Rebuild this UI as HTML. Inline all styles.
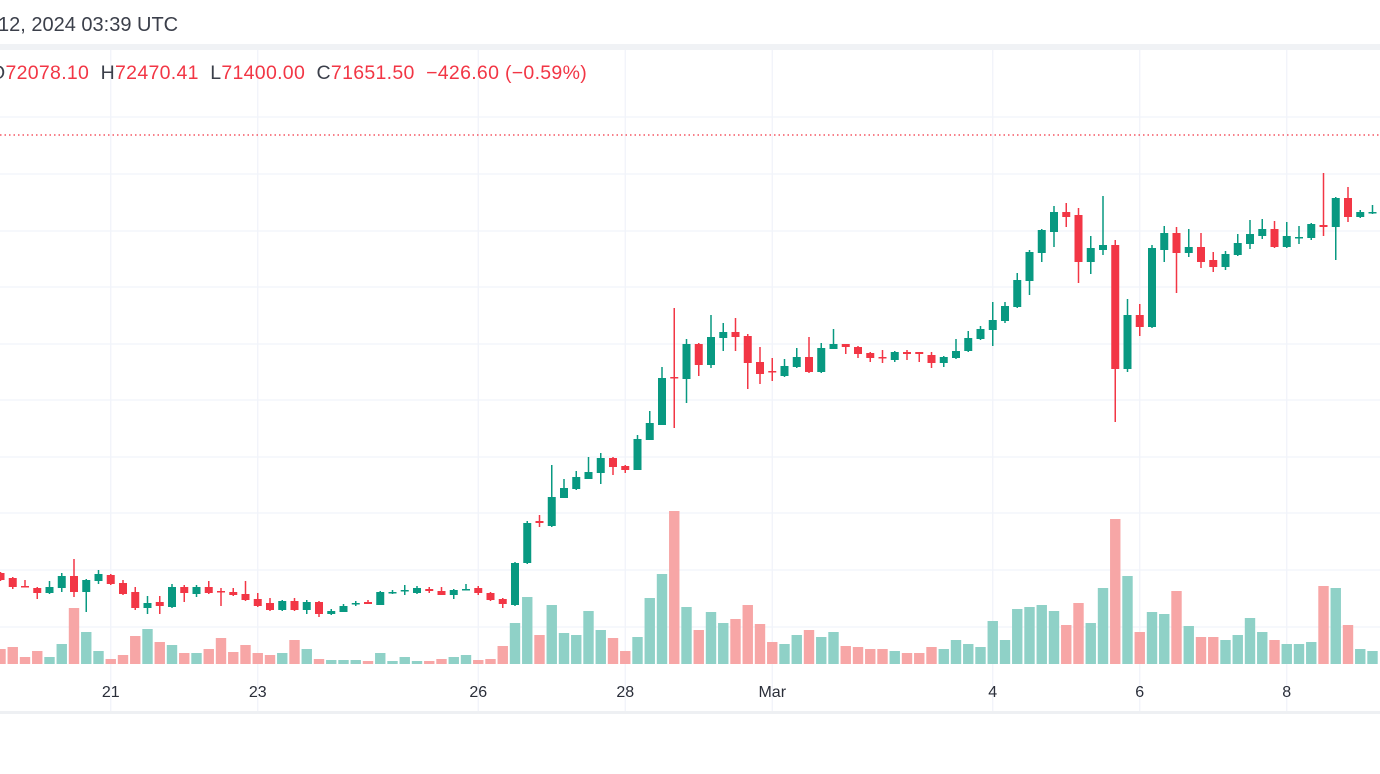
<!DOCTYPE html>
<html><head><meta charset="utf-8">
<style>
html,body{margin:0;padding:0;background:#fff;width:1380px;height:774px;overflow:hidden;font-family:"Liberation Sans",sans-serif;}
#hdr{position:absolute;left:-2px;top:14px;font-size:20px;color:#3b3f4a;white-space:nowrap;}
#ohlc{position:absolute;left:-10px;top:62px;font-size:19.5px;letter-spacing:0.3px;color:#3b3f4a;white-space:nowrap;}
#ohlc .v{color:#f23645;}
svg{position:absolute;left:0;top:0;}
</style></head><body>
<svg id="chart" width="1380" height="774"></svg>
<div id="hdr">12, 2024 03:39 UTC</div>
<div id="ohlc">O<span class="v">72078.10</span>&nbsp; H<span class="v">72470.41</span>&nbsp; L<span class="v">71400.00</span>&nbsp; C<span class="v">71651.50</span>&nbsp; <span class="v">−426.60 (−0.59%)</span></div>
<script>
const opens=[51350,51100,50700,50600,50350,50600,51200,50400,50950,51250,50850,50400,49600,49900,49650,50650,50300,50650,50450,50400,50300,50050,49850,49500,49950,49500,49900,49300,49400,49800,49900,49750,50350,50450,50350,50550,50450,50250,50500,50600,50350,50050,49750,51850,53950,53700,55100,55550,56050,56350,57100,56700,56500,58000,58750,61150,61050,62800,61750,63100,63400,63200,61900,61450,61200,61650,62150,61400,62550,62800,62650,62350,62150,62000,62400,62400,62250,61850,62100,62450,63050,63500,63950,64650,65950,67350,68400,69400,69250,66900,67500,67750,61550,64250,63650,67500,68350,67350,67650,67000,66650,67250,67800,68200,68550,67650,68100,68100,68750,68650,70100,69150,69350];
const highs=[51400,51150,51000,50650,50950,51350,52050,51050,51500,51300,51000,50650,50200,50200,50800,50750,50750,50950,50600,50600,50950,50350,50100,50000,50100,50000,49950,49550,49800,49950,50000,50450,50500,50750,50700,50650,50650,50550,50800,50700,50400,50100,51900,53950,54250,56750,56050,56450,57150,57350,57150,56750,58250,59450,61650,64600,63050,62850,64250,63850,64100,63300,62650,62100,62050,62600,63150,62850,63550,62800,62700,62400,62500,62450,62500,62400,62400,62200,63050,63450,63700,64900,64900,66350,67500,68550,69700,69850,69600,68200,70200,68000,65050,64800,67750,68700,68650,68550,68350,67400,67450,68300,69000,69050,68950,68900,68700,68850,71350,70150,70650,69500,69750];
const lows=[50950,50550,50650,50050,50300,50400,50150,49400,50800,50750,50250,49500,49300,49300,49600,49900,50150,50300,49700,50200,49950,49650,49450,49450,49450,49300,49150,49250,49400,49700,49800,49750,50300,50250,50300,50350,50250,50050,50500,50250,49950,49600,49700,51800,53650,53650,55100,55500,56050,55800,56250,56350,56500,58000,58750,58600,59850,61200,61600,62450,62450,60550,60800,60950,61150,61600,61350,61350,62550,62300,62100,61900,61850,61900,62000,61900,61600,61650,62050,62400,63000,62700,63850,64600,65250,66900,67650,68650,65850,66300,67250,58900,61400,63200,63600,66900,65350,67150,66600,66400,66500,67200,67550,68050,67600,67600,67800,68000,68200,67000,68900,69100,69300];
const closes=[51000,50650,50650,50350,50650,51200,50400,51000,51300,50800,50300,49600,49850,49700,50650,50350,50650,50350,50400,50250,50000,49700,49500,49950,49500,49900,49300,49450,49700,49850,49800,50400,50400,50500,50600,50450,50250,50500,50550,50350,50000,49800,51850,53850,53850,55150,55600,56150,56400,57100,56650,56500,58050,58850,61100,61100,62800,61750,63150,63400,63150,61850,61300,61400,61700,62150,61400,62600,62800,62650,62300,62100,62100,62400,62300,62300,61850,62150,62450,63100,63550,64000,64700,66000,67400,68500,69400,69150,66900,67600,67750,61550,64250,63650,67600,68350,67350,67650,66900,66650,67300,67850,68300,68550,67650,68200,68150,68800,68650,70100,69150,69400,69400];
const volumes=[1500,1700,700,1300,700,2000,5600,3200,1300,500,900,2800,3500,2200,1900,1100,1100,1500,2600,1200,1900,1100,900,1100,2400,1500,500,400,400,400,300,1100,300,700,300,300,500,700,900,400,500,1800,4100,6700,2900,5900,3100,2900,5300,3400,2600,1300,2700,6600,9000,15300,5700,3400,5200,4100,4500,5900,4000,2200,2000,2900,3400,2700,3200,1800,1700,1500,1500,1300,1100,1100,1700,1500,2400,2000,1700,4300,2400,5500,5700,5900,5300,3900,6100,4100,7600,14500,8800,3200,5200,5000,7300,3800,2700,2700,2400,2900,4600,3200,2400,2000,2000,2200,7800,7600,3900,1500,1300];
const dayLabels=["21","23","26","28","Mar","4","6","8"];
const dayLabelIndex=[9,21,39,51,63,81,93,105];

const NS="http://www.w3.org/2000/svg";
const svg=document.getElementById('chart');
const X=i=>0.5+12.25*i;
const Y=p=>(80000-p)/50;
const VY=v=>664-v/100;
function mk(t,a,parent){const e=document.createElementNS(NS,t);for(const k in a)e.setAttribute(k,a[k]);(parent||svg).appendChild(e);return e;}

let band=mk('rect',{x:0,y:44,width:1380,height:6,fill:'#f0f2f5'});


const gridG=mk('g',{});


[117,174,231,287,344,400,457,513,570,627].forEach(y=>{mk('line',{x1:0,x2:1380,y1:y,y2:y,stroke:'#f0f3fa','stroke-width':1.2},gridG);});
dayLabelIndex.forEach(i=>{mk('line',{x1:X(i),x2:X(i),y1:50,y2:712,stroke:'#f0f3fa','stroke-width':1.2},gridG);});
let lp=mk('line',{x1:0,x2:1380,y1:135,y2:135,stroke:'#f23645','stroke-width':1.2,'stroke-dasharray':'1.5 3'});



const volG=mk('g',{});


volumes.forEach((v,i)=>{
  const up=closes[i]>=opens[i];
  const r=mk('rect',{x:X(i)-5.2,y:VY(v),width:10.4,height:664-VY(v),fill:up?'#8fd1c7':'#f7a6a6'},volG);
  
  
});
const cG=mk('g',{});


opens.forEach((o,i)=>{
  const c=closes[i],up=c>=o,col=up?'#089981':'#f23645';
  const g=mk('g',{},cG);
  
  
  mk('line',{x1:X(i),x2:X(i),y1:Y(highs[i]),y2:Y(lows[i]),stroke:col,'stroke-width':1.5},g);
  const top=Math.min(Y(o),Y(c)),h=Math.max(1.5,Math.abs(Y(o)-Y(c)));
  mk('rect',{x:X(i)-4,y:top,width:8,height:h,fill:col},g);
});
let ax=mk('rect',{x:0,y:711,width:1380,height:3,fill:'#eef0f3'});


dayLabels.forEach((t,k)=>{
  const e=mk('text',{x:X(dayLabelIndex[k]),y:697,'text-anchor':'middle','font-size':'16','font-family':'Liberation Sans, sans-serif',fill:'#2a2e39'});
  e.textContent=t;
  
  
});
</script>
</body></html>
